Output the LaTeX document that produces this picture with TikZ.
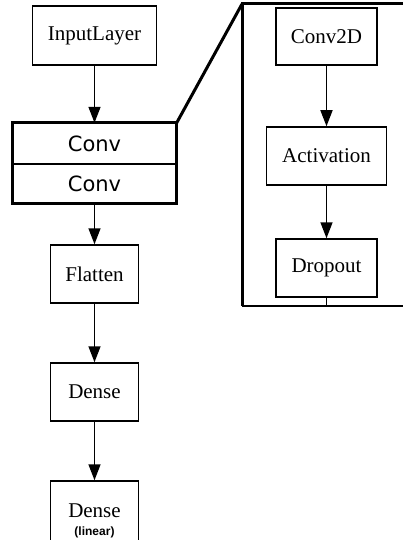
\documentclass[tikz,border=0pt]{standalone}
\usepackage{fontspec}
\setmainfont{Liberation Serif}
\newfontfamily\convfont{DejaVu Sans}
\newfontfamily\notefont{Liberation Sans}
\usetikzlibrary{arrows.meta}

\tikzset{
  layer/.style   = {draw, line width=1.5pt, rectangle, inner sep=0pt,
                    font=\fontsize{21}{24}\selectfont},
  convrow/.style = {rectangle, inner sep=0pt, minimum width=164pt,
                    font=\convfont\fontsize{21}{24}\selectfont},
  flow/.style    = {line width=1.5pt, -{Triangle[length=16pt,width=12pt]}},
  panel/.style   = {line width=3pt}
}

\begin{document}
\begin{tikzpicture}[x=1pt, y=-1pt]
\useasboundingbox (0,0) rectangle (402,540);

% level 1

\node[layer, minimum width=124pt, minimum height=59pt] (input) at (94.5,35.5) {InputLayer};

% level 2 (nested block)

\node[convrow, minimum height=41pt] (conva) at (94.5,143.5) {Conv};
\node[convrow, minimum height=40pt] (convb) at (94.5,183.5) {Conv};
\draw[line width=2pt] (conva.south west) -- (conva.south east);
\draw[panel] (conva.north west) rectangle (convb.south east);

% level 3

\node[layer, minimum width=88pt, minimum height=58pt] (flatten) at (94.5,274) {Flatten};
\node[layer, minimum width=88pt, minimum height=58pt] (dense) at (94.5,392) {Dense};
\node[layer, minimum width=88pt, minimum height=80pt, align=center] (output) at (94.5,521)
  {Dense\\[-6pt]{\notefont\bfseries\fontsize{12}{12}\selectfont (linear)}};

% inside of the block

\coordinate (ptop) at (242,4);
\coordinate (pright) at (403,4);
\coordinate (pbot) at (242,306);
\coordinate (pbotr) at (403,306);
\coordinate (tick) at (326.5,306);

\node[layer, minimum width=101pt, minimum height=57pt] (conv2d) at (326.5,36.5) {Conv2D};
\node[layer, minimum width=120pt, minimum height=58pt] (activation) at (326.5,156) {Activation};
\node[layer, minimum width=101pt, minimum height=58pt] (dropout) at (326.5,268) {Dropout};

\draw[panel] (conva.north east) -- (ptop);
\draw[panel] (pright) -- (ptop) -- (pbot);
\draw[line width=1.5pt] (pbot) -- (pbotr);
\draw[line width=1.5pt] (dropout.south) -- (tick);

% edges

\draw[flow] (input) -- (conva);
\draw[flow] (convb) -- (flatten);
\draw[flow] (flatten) -- (dense);
\draw[flow] (dense) -- (output);
\draw[flow] (conv2d) -- (activation);
\draw[flow] (activation) -- (dropout);

\end{tikzpicture}
\end{document}
